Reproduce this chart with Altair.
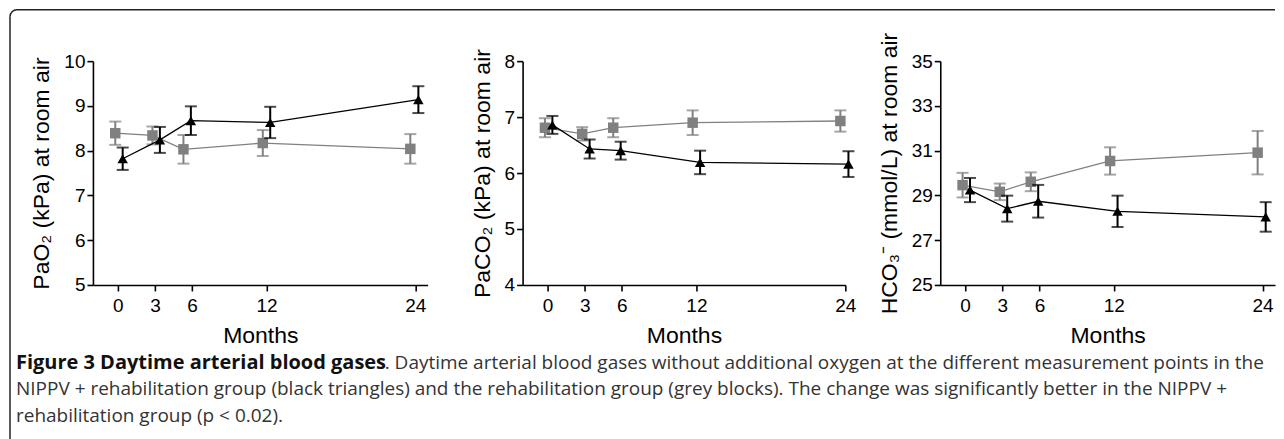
import altair as alt
import pandas as pd

# ---------------- data ----------------
month_ticks = [0, 3, 6, 12, 24]
x_rehab = [-0.2, 2.8, 5.3, 11.7, 23.6]      # grey blocks (plotted month positions)
x_nippv = [0.4, 3.4, 5.9, 12.3, 24.25]      # black triangles

pao2_rehab = [8.39, 8.34, 8.03, 8.17, 8.04]
pao2_rehab_err = [0.26, 0.20, 0.32, 0.29, 0.33]
pao2_nippv = [7.82, 8.24, 8.67, 8.63, 9.14]
pao2_nippv_err = [0.25, 0.29, 0.32, 0.35, 0.30]

paco2_rehab = [6.81, 6.70, 6.81, 6.90, 6.93]
paco2_rehab_err = [0.17, 0.12, 0.17, 0.22, 0.19]
paco2_nippv = [6.86, 6.43, 6.40, 6.19, 6.16]
paco2_nippv_err = [0.16, 0.17, 0.16, 0.21, 0.23]

hco3_rehab = [29.46, 29.16, 29.61, 30.54, 30.91]
hco3_rehab_err = [0.55, 0.37, 0.42, 0.61, 0.97]
hco3_nippv = [29.24, 28.41, 28.74, 28.29, 28.04]
hco3_nippv_err = [0.54, 0.58, 0.73, 0.70, 0.66]

groups = ["Rehabilitation", "NIPPV + rehabilitation"]
titles = ["PaO\u2082 (kPa) at room air", "PaCO\u2082 (kPa) at room air",
          "HCO\u2083\u207b (mmol/L) at room air"]
y_domains = [[5, 10], [4, 8], [25, 35]]
y_ticks = [[5, 6, 7, 8, 9, 10], [4, 5, 6, 7, 8], [25, 27, 29, 31, 33, 35]]

caption_bold = ["Figure 3 Daytime arterial blood gases"]
caption_lines = [
    ". Daytime arterial blood gases without additional oxygen at the different measurement points in the",
    "NIPPV + rehabilitation group (black triangles) and the rehabilitation group (grey blocks). The change was significantly better in the NIPPV +",
    "rehabilitation group (p < 0.02).",
]

AX_FONT = "Liberation Sans"
H = 224


def panel(rehab, rehab_err, nippv, nippv_err, title, domain, ticks, width, xdom, first=False):
    df = pd.DataFrame({
        "x": x_rehab + x_nippv,
        "y": rehab + nippv,
        "err": rehab_err + nippv_err,
        "group": [groups[0]] * 5 + [groups[1]] * 5,
    })
    df["lo"] = df["y"] - df["err"]
    df["hi"] = df["y"] + df["err"]
    xs = alt.Scale(domain=xdom, nice=False, zero=False)
    ys = alt.Scale(domain=domain, nice=False, zero=False)
    col = alt.Color("group:N", scale=alt.Scale(domain=groups, range=["#808080", "#000000"]),
                    legend=None)
    xax = alt.Axis(values=month_ticks, title="Months", grid=False, labelFont=AX_FONT,
                   labelFontSize=19, labelColor="black", titleFont=AX_FONT, titleFontSize=23,
                   titleFontWeight="normal", titleColor="black", domainColor="black",
                   domainWidth=1.6, tickColor="black", tickWidth=1.6, tickSize=6,
                   labelPadding=6, titlePadding=9, labelFlush=False, format="d")
    yax = alt.Axis(values=ticks, title=title, grid=False, labelFont=AX_FONT,
                   labelFontSize=19, labelColor="black", titleFont=AX_FONT, titleFontSize=23,
                   titleFontWeight="normal", titleColor="black", domainColor="black",
                   domainWidth=1.6, tickColor="black", tickWidth=1.6, tickSize=6,
                   labelPadding=2, titlePadding=10, labelFlush=False, format="d")
    base = alt.Chart(df)
    layers = []
    for g in groups:
        b = base.transform_filter(alt.datum.group == g)
        line = b.mark_line(strokeWidth=1.3).encode(
            x=alt.X("x:Q", scale=xs, axis=xax), y=alt.Y("y:Q", scale=ys, axis=yax),
            color=col, order="x:Q")
        rule = b.mark_rule(strokeWidth=2).encode(
            x="x:Q", y="lo:Q", y2="hi:Q", color=col)
        cap_lo = b.mark_tick(orient="horizontal", size=12, thickness=2).encode(
            x="x:Q", y="lo:Q", color=col)
        cap_hi = b.mark_tick(orient="horizontal", size=12, thickness=2).encode(
            x="x:Q", y="hi:Q", color=col)
        pts = b.mark_point(filled=True, opacity=1, size=110).encode(
            x="x:Q", y="y:Q", color=col,
            shape=alt.Shape("group:N", scale=alt.Scale(domain=groups,
                            range=["square", "triangle-up"]), legend=None))
        layers += [line, rule, cap_lo, cap_hi, pts]

    if first:
        one = alt.Chart(pd.DataFrame({"k": [0]}))
        # frame of the figure box
        layers.append(one.mark_rule(color="#222", strokeWidth=1.5).encode(
            x=alt.value(-83), y=alt.value(-44.5), y2=alt.value(384)))
        layers.append(one.mark_rule(color="#222", strokeWidth=1.5).encode(
            x=alt.value(-76), x2=alt.value(1183), y=alt.value(-51.5)))
        layers.append(one.mark_arc(innerRadius=6.25, outerRadius=7.75, theta=4.7124,
                                   theta2=6.2832, color="#222").encode(
            x=alt.value(-76), y=alt.value(-44.5)))
        # caption
        layers.append(alt.Chart(pd.DataFrame({"t": caption_bold})).mark_text(
            align="left", baseline="middle", font="Open Sans", fontSize=20,
            fontWeight="bold", color="#111").encode(
            x=alt.value(-77), y=alt.value(302), text="t:N"))
        cap_y = [302, 328, 355]
        cap_x = [292, -77, -77]
        for i, line_txt in enumerate(caption_lines):
            layers.append(alt.Chart(pd.DataFrame({"t": [line_txt]})).mark_text(
                align="left", baseline="middle", font="Open Sans", fontSize=19,
                color="#333").encode(
                x=alt.value(cap_x[i]), y=alt.value(cap_y[i]), text="t:N"))

    return alt.layer(*layers).properties(width=width, height=H)


p1 = panel(pao2_rehab, pao2_rehab_err, pao2_nippv, pao2_nippv_err, titles[0],
           y_domains[0], y_ticks[0], 335, [-2, 25], first=True)
p2 = panel(paco2_rehab, paco2_rehab_err, paco2_nippv, paco2_nippv_err, titles[1],
           y_domains[1], y_ticks[1], 323, [-2, 24])
p3 = panel(hco3_rehab, hco3_rehab_err, hco3_nippv, hco3_nippv_err, titles[2],
           y_domains[2], y_ticks[2], 335, [-2, 25])

chart = alt.hconcat(p1, p2, p3, spacing=95, bounds="flush").properties(
    padding={"left": 1, "top": 0, "right": 0, "bottom": 0}
).configure_view(stroke=None).resolve_scale(color="independent", shape="independent")

chart.save("out.html", embed_options={"renderer": "svg", "actions": False})
